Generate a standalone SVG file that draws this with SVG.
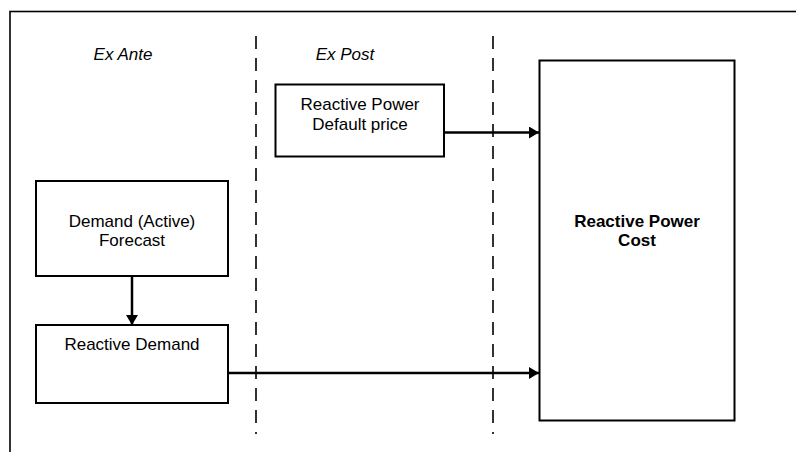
<svg xmlns="http://www.w3.org/2000/svg" width="796" height="452" viewBox="0 0 796 452">
<style>
text{font-family:"Liberation Sans",Arial,sans-serif;font-size:17px;fill:#000;text-anchor:middle}
.box{fill:#fff;stroke:#000;stroke-width:2}
.dash{stroke:#000;stroke-width:1.6;stroke-dasharray:13 9;fill:none}
.conn{stroke:#000;stroke-width:2.5;fill:none}
.it{font-style:italic}
.b{font-weight:bold}
</style>
<defs>
<marker id="ah" viewBox="0 0 10 12" refX="10" refY="6" markerWidth="10" markerHeight="12" markerUnits="userSpaceOnUse" orient="auto">
<path d="M0,0 L10,6 L0,12 Z" fill="#000"/>
</marker>
</defs>
<rect x="0" y="0" width="796" height="452" fill="#fff"/>
<rect x="10" y="11.5" width="800" height="460" fill="none" stroke="#000" stroke-width="1.6"/>
<g id="dividers">
<line class="dash" x1="256" y1="36" x2="256" y2="434"/>
<line class="dash" x1="493" y1="36" x2="493" y2="434"/>
</g>
<g id="labels">
<text class="it" x="123" y="60">Ex Ante</text>
<text class="it" x="345" y="60">Ex Post</text>
</g>
<g id="connectors">
<line class="conn" x1="132" y1="276" x2="132" y2="325" marker-end="url(#ah)"/>
<line class="conn" x1="228" y1="373" x2="539" y2="373" marker-end="url(#ah)"/>
<line class="conn" x1="444" y1="132.5" x2="539" y2="132.5" marker-end="url(#ah)"/>
</g>
<g id="node-demand">
<rect class="box" x="36" y="181" width="192" height="95"/>
<text x="132" y="226.5">Demand (Active)</text>
<text x="132" y="245.5">Forecast</text>
</g>
<g id="node-reactive-demand">
<rect class="box" x="36" y="325" width="192" height="78"/>
<text x="132" y="349.5">Reactive Demand</text>
</g>
<g id="node-default-price">
<rect class="box" x="275.5" y="84.5" width="168.5" height="72"/>
<text x="360" y="110">Reactive Power</text>
<text x="360" y="130">Default price</text>
</g>
<g id="node-cost">
<rect class="box" x="539.5" y="60.5" width="195" height="360"/>
<text class="b" x="637" y="226.5">Reactive Power</text>
<text class="b" x="637" y="245.5">Cost</text>
</g>
</svg>
